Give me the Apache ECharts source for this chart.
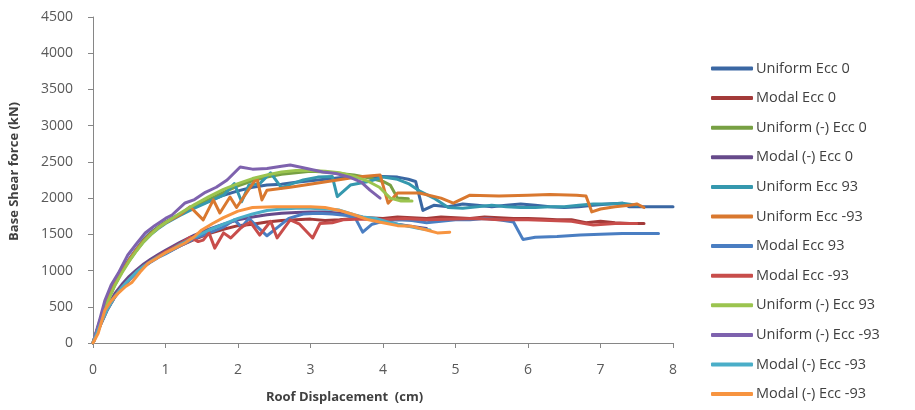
<!DOCTYPE html>
<html><head><meta charset="utf-8">
<script src="https://cdn.jsdelivr.net/npm/echarts@6/dist/echarts.min.js"></script>
<style>html,body{margin:0;padding:0;background:#fff}#c{width:915px;height:410px}</style>
</head><body><div id="c"></div>
<script>
// the 12th name carries a trailing space so ECharts keeps it as a separate legend entry
const seriesNames = ["Uniform Ecc 0","Modal Ecc 0","Uniform (-) Ecc 0","Modal (-) Ecc 0","Uniform Ecc 93","Uniform Ecc -93","Modal Ecc 93","Modal Ecc -93","Uniform (-) Ecc 93","Uniform (-) Ecc -93","Modal (-) Ecc -93","Modal (-) Ecc -93 "];
const xTicks = [0,1,2,3,4,5,6,7,8];
const yTicks = [0,500,1000,1500,2000,2500,3000,3500,4000,4500];

const uniformEcc0 = [[0,0],[0.1,320],[0.2,600],[0.3,830],[0.4,1010],[0.5,1160],[0.6,1300],[0.7,1430],[0.8,1530],[0.9,1600],[1.0,1670],[1.2,1780],[1.4,1880],[1.6,1960],[1.8,2040],[2.0,2100],[2.2,2150],[2.4,2180],[2.6,2190],[2.8,2220],[3.0,2240],[3.2,2260],[3.4,2280],[3.6,2290],[3.8,2300],[4.0,2300],[4.2,2290],[4.35,2260],[4.45,2230],[4.55,1830],[4.7,1900],[4.9,1880],[5.1,1920],[5.3,1900],[5.5,1880],[5.7,1900],[5.9,1920],[6.1,1900],[6.3,1880],[6.5,1870],[6.7,1880],[6.9,1900],[7.1,1920],[7.3,1930],[7.4,1880],[7.6,1880],[7.8,1880],[8.0,1880]];
const modalEcc0 = [[0,0],[0.1,250],[0.2,470],[0.3,640],[0.4,770],[0.5,880],[0.6,980],[0.7,1060],[0.8,1130],[0.9,1190],[1.0,1240],[1.2,1340],[1.4,1430],[1.6,1510],[1.8,1570],[2.0,1620],[2.2,1640],[2.4,1670],[2.6,1690],[2.8,1700],[3.0,1710],[3.2,1690],[3.4,1700],[3.6,1720],[3.8,1730],[4.0,1720],[4.2,1740],[4.4,1730],[4.6,1720],[4.8,1740],[5.0,1730],[5.2,1720],[5.4,1740],[5.6,1730],[5.8,1720],[6.0,1720],[6.2,1710],[6.4,1700],[6.6,1700],[6.8,1660],[7.0,1680],[7.2,1660],[7.4,1650],[7.6,1650]];
const uniformNegEcc0 = [[0,0],[0.1,300],[0.2,580],[0.3,800],[0.4,990],[0.5,1140],[0.6,1290],[0.7,1420],[0.8,1520],[0.9,1600],[1.0,1670],[1.2,1780],[1.4,1880],[1.6,1980],[1.8,2080],[2.0,2170],[2.2,2240],[2.4,2290],[2.6,2330],[2.8,2350],[3.0,2370],[3.2,2360],[3.4,2340],[3.6,2320],[3.8,2280],[4.0,2230],[4.1,2180],[4.2,2000],[4.35,1990]];
const modalNegEcc0 = [[0,0],[0.1,270],[0.2,500],[0.3,680],[0.4,810],[0.5,920],[0.6,1010],[0.7,1090],[0.8,1160],[0.9,1220],[1.0,1280],[1.2,1390],[1.4,1490],[1.6,1570],[1.8,1640],[2.0,1700],[2.2,1740],[2.4,1770],[2.6,1790],[2.8,1800],[3.0,1810],[3.2,1810],[3.4,1790],[3.6,1760],[3.8,1720],[4.0,1680],[4.2,1640],[4.4,1610],[4.6,1580]];
const uniformEcc93 = [[0,0],[0.1,310],[0.2,590],[0.3,810],[0.4,990],[0.5,1140],[0.6,1280],[0.7,1400],[0.8,1500],[0.9,1580],[1.0,1650],[1.2,1760],[1.4,1860],[1.6,1950],[1.8,2040],[1.95,2200],[2.05,1950],[2.15,2180],[2.3,2200],[2.45,2350],[2.6,2140],[2.75,2200],[2.9,2250],[3.1,2290],[3.3,2300],[3.37,2020],[3.55,2180],[3.8,2230],[4.0,2290],[4.2,2260],[4.35,2200],[4.5,2100],[4.7,2000],[4.9,1870],[5.1,1860],[5.3,1880],[5.5,1900],[5.7,1880],[5.9,1870],[6.1,1870],[6.3,1880],[6.5,1880],[6.7,1900],[6.9,1920],[7.1,1920],[7.3,1930],[7.5,1900]];
const uniformEccM93 = [[0,0],[0.1,310],[0.2,590],[0.3,810],[0.4,990],[0.5,1150],[0.6,1290],[0.7,1410],[0.8,1510],[0.9,1590],[1.0,1660],[1.2,1770],[1.34,1880],[1.52,1700],[1.66,1975],[1.75,1795],[1.89,2015],[1.98,1870],[2.17,2150],[2.26,2280],[2.33,1975],[2.4,2110],[2.72,2150],[3.17,2220],[3.64,2290],[3.96,2320],[4.07,1930],[4.2,2070],[4.5,2070],[4.8,2000],[4.97,1930],[5.2,2040],[5.6,2030],[6.0,2040],[6.3,2050],[6.67,2040],[6.8,2030],[6.88,1810],[7.0,1850],[7.2,1880],[7.4,1900],[7.5,1920],[7.6,1870]];
const modalEcc93 = [[0,0],[0.1,240],[0.2,460],[0.3,630],[0.4,760],[0.5,870],[0.6,970],[0.7,1050],[0.8,1120],[0.9,1180],[1.0,1230],[1.2,1340],[1.4,1440],[1.6,1520],[1.8,1600],[1.95,1700],[2.05,1600],[2.15,1720],[2.25,1620],[2.4,1480],[2.55,1600],[2.7,1720],[2.9,1780],[3.1,1790],[3.3,1780],[3.5,1760],[3.62,1720],[3.72,1530],[3.85,1640],[4.0,1680],[4.2,1700],[4.4,1690],[4.6,1660],[4.8,1680],[5.0,1700],[5.2,1700],[5.4,1720],[5.6,1700],[5.8,1670],[5.93,1430],[6.1,1460],[6.4,1470],[6.72,1490],[7.0,1500],[7.3,1510],[7.6,1510],[7.8,1510]];
const modalEccM93 = [[0,0],[0.1,250],[0.2,470],[0.3,640],[0.4,770],[0.5,880],[0.6,980],[0.7,1060],[0.8,1130],[0.9,1200],[1.0,1260],[1.2,1370],[1.34,1460],[1.45,1400],[1.52,1420],[1.6,1520],[1.68,1310],[1.8,1520],[1.9,1450],[2.05,1600],[2.17,1670],[2.3,1490],[2.45,1680],[2.54,1450],[2.72,1700],[2.85,1640],[3.03,1450],[3.13,1650],[3.3,1660],[3.45,1700],[3.7,1710],[4.0,1700],[4.3,1720],[4.6,1700],[5.0,1710],[5.3,1720],[5.6,1700],[6.0,1700],[6.3,1690],[6.6,1680],[6.9,1630],[7.2,1650],[7.5,1650]];
const uniformNegEcc93 = [[0,0],[0.1,300],[0.2,560],[0.3,790],[0.4,970],[0.5,1130],[0.6,1270],[0.7,1400],[0.8,1500],[0.9,1590],[1.0,1660],[1.2,1790],[1.4,1910],[1.6,2020],[1.8,2120],[2.0,2200],[2.2,2270],[2.4,2320],[2.6,2360],[2.8,2380],[3.0,2380],[3.2,2370],[3.4,2350],[3.6,2300],[3.8,2230],[3.95,2150],[4.1,2000],[4.25,1960],[4.4,1960]];
const uniformNegEccM93 = [[0,0],[0.1,350],[0.165,590],[0.25,800],[0.35,965],[0.48,1215],[0.6,1370],[0.72,1518],[0.85,1620],[1.0,1720],[1.09,1767],[1.27,1933],[1.4,1980],[1.55,2080],[1.7,2150],[1.85,2250],[2.03,2430],[2.2,2400],[2.4,2410],[2.6,2440],[2.72,2457],[2.9,2420],[3.17,2360],[3.35,2340],[3.54,2290],[3.7,2220],[3.82,2110],[3.96,2000]];
const modalNegEccM93a = [[0,0],[0.1,250],[0.2,470],[0.3,640],[0.4,770],[0.5,880],[0.6,980],[0.7,1060],[0.8,1130],[0.9,1190],[1.0,1240],[1.2,1360],[1.4,1460],[1.6,1560],[1.8,1640],[2.0,1720],[2.2,1780],[2.4,1830],[2.6,1850],[2.8,1860],[3.0,1860],[3.2,1850],[3.4,1835],[3.6,1770],[3.72,1740],[3.9,1720],[4.1,1660],[4.3,1620],[4.5,1580],[4.65,1560]];
const modalNegEccM93b = [[0,0],[0.07,130],[0.165,455],[0.25,580],[0.35,690],[0.45,780],[0.54,840],[0.65,980],[0.76,1100],[0.88,1170],[0.99,1240],[1.13,1310],[1.27,1380],[1.4,1470],[1.5,1560],[1.65,1650],[1.8,1730],[2.0,1820],[2.2,1870],[2.5,1880],[2.8,1880],[3.0,1880],[3.2,1870],[3.4,1830],[3.6,1770],[3.8,1700],[4.0,1660],[4.2,1620],[4.4,1610],[4.6,1560],[4.75,1520],[4.92,1530]];

const seriesData = [uniformEcc0, modalEcc0, uniformNegEcc0, modalNegEcc0, uniformEcc93, uniformEccM93, modalEcc93, modalEccM93, uniformNegEcc93, uniformNegEccM93, modalNegEccM93a, modalNegEccM93b];
const colors = ['#3A67A3','#A33A39','#77A043','#664A8A','#3598AE','#D9782F','#4A7EC2','#C84D4B','#9BC44F','#7E62AE','#4AAEC8','#F79440'];

const FONT = '"Open Sans"';
const chart = echarts.init(document.getElementById('c'), null, {renderer:'canvas'});
chart.setOption({
  animation:false,
  color: colors,
  grid:{left:93, top:17, width:580, height:326, containLabel:false},
  xAxis:{type:'value', min:0, max:8, interval:1,
    name:'Roof Displacement  (cm)', nameLocation:'middle', nameGap:48,
    nameTextStyle:{fontFamily:FONT, fontWeight:'bold', fontSize:13, color:'#404040', padding:[0,77,0,0]},
    axisLine:{show:true, onZero:false, lineStyle:{color:'#868686', width:1}},
    axisTick:{show:true, length:5, lineStyle:{color:'#868686'}},
    axisLabel:{margin:20, fontFamily:FONT, fontSize:14, color:'#595959', formatter: v => xTicks.includes(v) ? String(v) : ''},
    splitLine:{show:false}},
  yAxis:{type:'value', min:0, max:4500, interval:500,
    name:'Base Shear force (kN)', nameLocation:'middle', nameGap:72,
    nameTextStyle:{fontFamily:FONT, fontWeight:'bold', fontSize:13, color:'#404040', padding:[0,0,0,17]},
    axisLine:{show:true, lineStyle:{color:'#868686', width:1}},
    axisTick:{show:true, length:5, lineStyle:{color:'#868686'}},
    axisLabel:{margin:20, fontFamily:FONT, fontSize:14, color:'#595959', formatter: v => yTicks.includes(v) ? String(v) : ''},
    splitLine:{show:false}},
  legend:{orient:'vertical', left:711, top:61, height:380, padding:0, itemWidth:42, itemHeight:4, itemGap:14.6, icon:'roundRect',
    textStyle:{fontFamily:FONT, fontSize:14.5, color:'#404040', lineHeight:14, padding:[0,0,0,-2]},
    data: seriesNames.map(n=>({name:n}))},
  series: seriesNames.map((n,i)=>({
    name:n, type:'line', data:seriesData[i], showSymbol:false, symbol:'none',
    lineStyle:{width:3, color:colors[i], join:'round', cap:'round'},
    itemStyle:{color:colors[i]}, z: i
  }))
});
</script></body></html>
